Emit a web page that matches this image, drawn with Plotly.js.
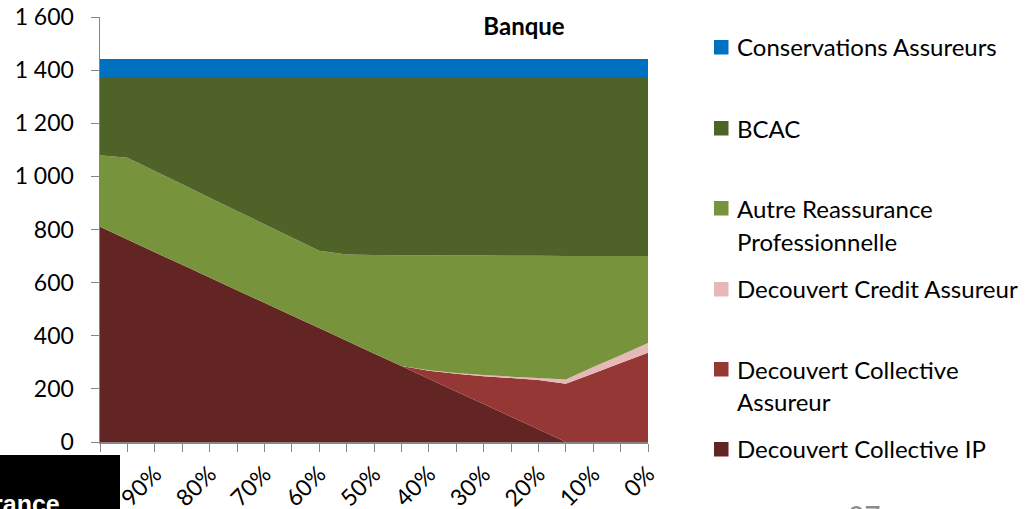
<!DOCTYPE html>
<html>
<head>
<meta charset="utf-8">
<script src="https://cdn.plot.ly/plotly-3.0.1.min.js"></script>
<style>html,body{margin:0;padding:0;background:#fff;}#chart{width:1026px;height:509px;}</style>
</head>
<body>
<div id="chart"></div>
<script>
// ---- data ----
var categories = ['100%','95%','90%','85%','80%','75%','70%','65%','60%','55%','50%','45%','40%','35%','30%','25%','20%','15%','10%','5%','0%'];
var collectiveIP        = [810,762,714,667,619,571,524,476,429,381,333,286,238,190,143,95,48,0,0,0,0];
var collectiveAssureur  = [0,0,0,0,0,0,0,0,0,0,0,0,30,67,105,146,185,219,258,297,336];
var creditAssureur      = [0,0,0,0,0,0,0,0,0,0,0,0,2,3,4,5,8,16,24,30,37];
var autreReassurance    = [270,308,306,303,301,299,296,294,291,325,371,417,433,442,450,455,460,465,418,373,327];
var bcac                = [294,304,354,404,454,504,554,604,654,668,670,671,671,672,672,673,673,674,674,674,674];
var conservations       = [68,68,68,68,68,68,68,68,68,68,68,68,68,68,68,68,68,68,68,68,68];

var seriesNames = ['Decouvert Collective IP','Decouvert Collective Assureur','Decouvert Credit Assureur','Autre Reassurance Professionnelle','BCAC','Conservations Assureurs'];
var seriesValues = [collectiveIP, collectiveAssureur, creditAssureur, autreReassurance, bcac, conservations];
var seriesColors = ['#632523','#953735','#E6B9B8','#77933C','#4F6228','#0070C0'];
var tickLabels = categories.map(function(c,i){ return i % 2 === 0 ? c : ''; });

// ---- layout helpers (pixel -> paper) ----
var L = 100, R = 648, T = 17, B = 442;
function px(x){ return (x - L) / (R - L); }
function py(y){ return (B - y) / (B - T); }

var FONT = 'Lato, "Open Sans", sans-serif';

var traces = seriesValues.map(function(vals, i){
  return {
    type: 'scatter', x: categories, y: vals, name: seriesNames[i],
    stackgroup: 'one', mode: 'none', fillcolor: seriesColors[i],
    showlegend: false, hoverinfo: 'x+y+name'
  };
});

// legend (top to bottom), drawn as squares + text
var legendItems = [
  {idx:5, sq:40,  lines:[['Conservations Assureurs',47]]},
  {idx:4, sq:121, lines:[['BCAC',128]]},
  {idx:3, sq:201, lines:[['Autre Reassurance',208],['Professionnelle',241]]},
  {idx:2, sq:282, lines:[['Decouvert Credit Assureur',288]]},
  {idx:1, sq:362, lines:[['Decouvert Collective',369],['Assureur',401]]},
  {idx:0, sq:442, lines:[['Decouvert Collective IP',449]]}
];
var shapes = [], annotations = [];
legendItems.forEach(function(it){
  shapes.push({type:'rect', xref:'paper', yref:'paper', x0:px(714), x1:px(728.5), y0:py(it.sq), y1:py(it.sq+14.5),
    fillcolor: seriesColors[it.idx], line:{width:0}});
  it.lines.forEach(function(ln){
    annotations.push({xref:'paper', yref:'paper', x:px(735), y:py(ln[1]), xanchor:'left', yanchor:'middle',
      text: ln[0], showarrow:false, font:{family:FONT, size:24, color:'#000'}});
  });
});
// logo box and page number overlays
shapes.push({type:'rect', xref:'paper', yref:'paper', x0:px(0), x1:px(120), y0:py(520), y1:py(455), fillcolor:'#000', line:{width:0}, layer:'above'});
annotations.push({xref:'paper', yref:'paper', x:px(62), y:py(504), xanchor:'right', yanchor:'middle', text:'<b>rance</b>', showarrow:false,
  font:{family:'"Liberation Sans", Arial, sans-serif', size:25, color:'#fff'}});
annotations.push({xref:'paper', yref:'paper', x:px(864), y:py(516), xanchor:'center', yanchor:'middle', text:'27', showarrow:false,
  font:{family:FONT, size:28, color:'#8c8c8c'}});

var layout = {
  width: 1026, height: 509,
  margin: {l: L, r: 1026 - R, t: T, b: 509 - B, pad: 0},
  paper_bgcolor: '#fff', plot_bgcolor: '#fff',
  separators: ', ',
  font: {family: FONT, size: 23, color: '#000'},
  title: {text: '<b>Banque</b>', x: 524/1026, xanchor: 'center', y: 1 - 27/509, yanchor: 'middle', xref:'container', yref:'container',
    font: {family: FONT, size: 24, color: '#000'}},
  showlegend: false,
  xaxis: {
    type: 'category', range: [0, categories.length - 1],
    tickmode: 'array', tickvals: categories, ticktext: tickLabels, tickangle: -45,
    ticks: 'outside', ticklen: 8, tickcolor: '#868686', tickwidth: 1,
    showline: true, linecolor: '#868686', linewidth: 1.5, showgrid: false, zeroline: false,
    tickfont: {family: FONT, size: 23, color: '#000'}, ticklabelstandoff: 0
  },
  yaxis: {
    range: [0, 1600], dtick: 200, tick0: 0, tickformat: ',d',
    ticks: 'outside', ticklen: 8, tickcolor: '#868686', tickwidth: 1,
    showline: true, linecolor: '#868686', linewidth: 1.5, showgrid: false, zeroline: false,
    tickfont: {family: FONT, size: 23, color: '#000'}, ticklabelstandoff: 12
  },
  shapes: shapes,
  annotations: annotations
};

Plotly.newPlot('chart', traces, layout, {displayModeBar: false, staticPlot: true});
</script>
</body>
</html>
